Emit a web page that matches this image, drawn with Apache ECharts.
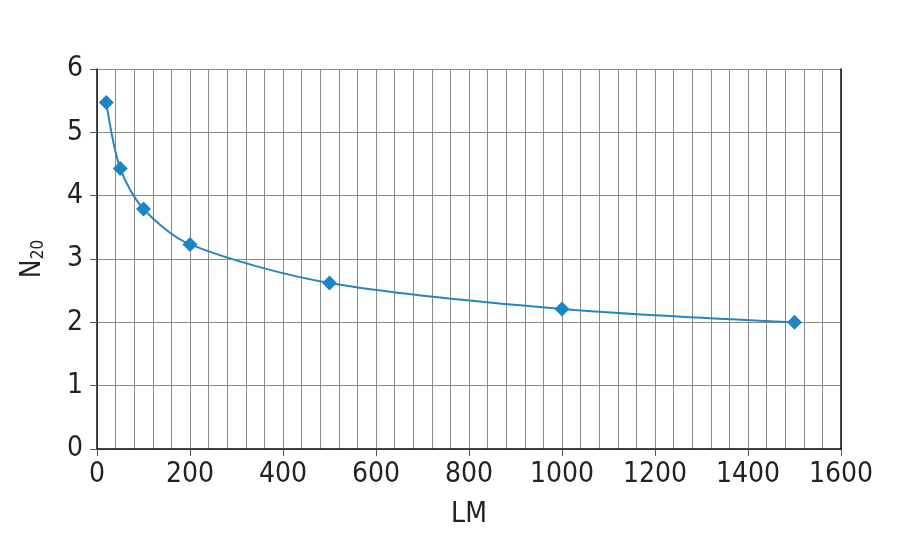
<!DOCTYPE html>
<html><head><meta charset="utf-8">
<script src="https://cdn.jsdelivr.net/npm/echarts@6/dist/echarts.min.js"></script>
<style>html,body{margin:0;padding:0;background:#fff}#c{width:919px;height:555px}</style>
</head><body><div id="c"></div>
<script>
const lmValues = [20, 50, 100, 200, 500, 1000, 1500];
const n20Values = [5.47, 4.43, 3.79, 3.23, 2.62, 2.21, 2.0];
const xTitle = 'LM';
const yTitleMain = 'N';
const yTitleSub = '20';

const font = '"DejaVu Sans Condensed", "Liberation Sans Narrow", sans-serif';
const chart = echarts.init(document.getElementById('c'));
chart.setOption({
  animation: false,
  backgroundColor: '#fff',
  grid: {left: 97, right: 78, top: 69, bottom: 106},
  xAxis: {
    type: 'value', min: 0, max: 1600, interval: 200,
    name: xTitle, nameLocation: 'middle', nameGap: 52,
    nameTextStyle: {fontFamily: font, fontSize: 28, color: '#222'},
    axisLine: {show: true, onZero: false, lineStyle: {color: '#111', width: 1.5}},
    axisTick: {show: true, length: 7, lineStyle: {color: '#555'}},
    axisLabel: {fontFamily: font, fontSize: 28, color: '#222', margin: 12, formatter: v => String(v)},
    splitLine: {show: true, lineStyle: {color: '#8a8a8a', width: 1}},
    minorTick: {show: false, splitNumber: 5},
    minorSplitLine: {show: true, lineStyle: {color: '#8a8a8a', width: 1}}
  },
  yAxis: [{
    type: 'value', min: 0, max: 6, interval: 1,
    name: '{m|' + yTitleMain + '}{s|' + yTitleSub + '}', nameLocation: 'middle', nameGap: 50,
    nameTextStyle: {fontFamily: font, color: '#222',
      rich: {m: {fontFamily: font, fontSize: 28, color: '#222'},
             s: {fontFamily: font, fontSize: 17, color: '#222', verticalAlign: 'bottom', padding: [12,0,0,0]}}},
    axisLine: {show: true, lineStyle: {color: '#111', width: 1.5}},
    axisTick: {show: true, length: 7, lineStyle: {color: '#555'}},
    axisLabel: {fontFamily: font, fontSize: 28, color: '#222', margin: 14},
    splitLine: {show: true, lineStyle: {color: '#8a8a8a', width: 1}}
  }, {
    type: 'value', min: 0, max: 6, interval: 1, position: 'right',
    axisLine: {show: true, lineStyle: {color: '#111', width: 1.5}},
    axisTick: {show: false}, axisLabel: {show: false}, splitLine: {show: false}
  }],
  series: [{
    type: 'line',
    data: lmValues.map((x, i) => [x, n20Values[i]]),
    smooth: 0.3,
    symbol: 'diamond', symbolSize: 15,
    itemStyle: {color: '#1a86c8'},
    lineStyle: {color: '#2786bd', width: 2}
  }]
});
</script></body></html>
